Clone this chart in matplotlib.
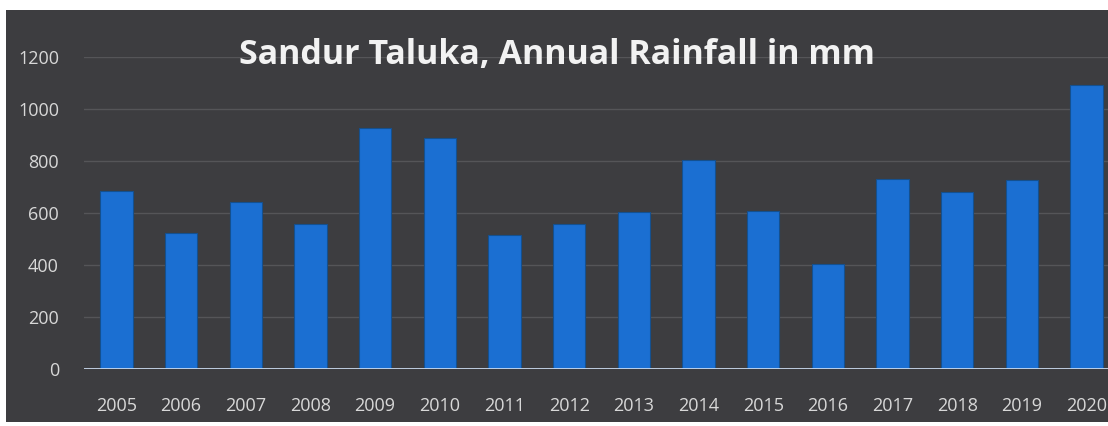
import matplotlib.pyplot as plt

years = ['2005', '2006', '2007', '2008', '2009', '2010', '2011', '2012',
         '2013', '2014', '2015', '2016', '2017', '2018', '2019', '2020']
rainfall = [685, 525, 642, 558, 928, 888, 515, 556,
            602, 804, 608, 402, 732, 682, 727, 1092]
yticks = [0, 200, 400, 600, 800, 1000, 1200]

plt.rcParams['font.family'] = ['Open Sans', 'DejaVu Sans']

fig = plt.figure(figsize=(11.08, 4.26), dpi=100)
fig.patch.set_facecolor('white')

# dark slide background (photo of a presentation)
bg = fig.add_axes([6 / 1108, 4 / 426, 1 - 6 / 1108, 412 / 426], zorder=-1)
bg.set_facecolor('#3d3d40')
bg.set_xticks([])
bg.set_yticks([])
for s in bg.spines.values():
    s.set_visible(False)

ax = fig.add_axes([84 / 1108, 57 / 426, 1 - 84 / 1108, 312 / 426])
ax.set_facecolor('none')

x = list(range(len(years)))
ax.bar(x, rainfall, width=0.5, color='#1b6fd2', edgecolor='#14508f',
       linewidth=0.8, zorder=3)

ax.set_xlim(-0.5, 15.33)
ax.set_ylim(0, 1200)
ax.set_yticks(yticks)
ax.set_xticks(x)
ax.set_xticklabels(years)
ax.tick_params(axis='both', length=0, colors='#d8d8d8', labelsize=13)
ax.tick_params(axis='x', pad=20)
ax.tick_params(axis='y', pad=18)
ax.grid(axis='y', color='#555558', linewidth=1, zorder=0)
for s in ax.spines.values():
    s.set_visible(False)
ax.axhline(0, color='#c9d9ee', linewidth=2, zorder=4)

fig.text(0.503, 0.872, 'Sandur Taluka, Annual Rainfall in mm', ha='center',
         va='center', color='#f2f2f2', fontsize=24.5, fontweight='bold')

fig.savefig('out.png', dpi=100)
